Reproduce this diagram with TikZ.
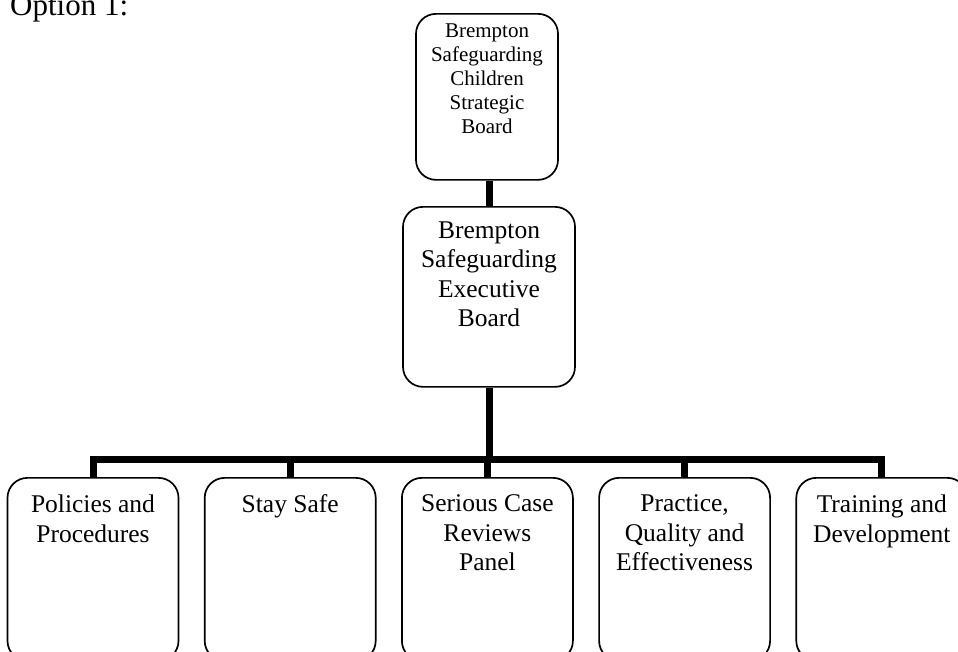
\documentclass[tikz,border=0pt]{standalone}
\usepackage{fontspec}
\setmainfont{Liberation Serif}
\begin{document}
\begin{tikzpicture}[x=1pt,y=-1pt,
  box/.style={draw, line width=1.7pt, rounded corners=20pt, inner sep=0pt, anchor=north},
  label/.style={inner sep=0pt, align=center, anchor=north},
  topbox/.style={box, minimum width=142pt, minimum height=166pt},
  execbox/.style={box, minimum width=172pt, minimum height=180pt},
  groupbox/.style={box, minimum width=171pt, minimum height=183pt},
  toptext/.style={label, font=\fontsize{21}{24}\selectfont},
  maintext/.style={label, font=\fontsize{25.5}{29.5}\selectfont},
  grouptext/.style={label, font=\fontsize{25.5}{29.5}\selectfont},
  conn/.style={line width=7pt}]
\useasboundingbox (0,0) rectangle (958,651);
\fill[white] (0,0) rectangle (958,651);
\clip (0,0) rectangle (958,651);

\node[anchor=base west, inner sep=0pt, font=\fontsize{31}{36}\selectfont] (title) at (10,15) {Option 1:};

% board hierarchy
\node[topbox] (strategic) at (487,13) {};
\node[toptext] (strategic-t) at ([yshift=-10.5pt]strategic.north)
  {Brempton\\Safeguarding\\Children\\Strategic\\Board};
\node[execbox] (exec) at (489,206) {};
\node[maintext] (exec-t) at ([yshift=-15.5pt]exec.north)
  {Brempton\\Safeguarding\\Executive\\Board};

% sub-groups
\foreach \i/\x/\txt in {1/93/{Policies and\\Procedures},
    2/290.2/{Stay Safe},
    3/487.4/{Serious Case\\Reviews\\Panel},
    4/684.6/{Practice,\\Quality and\\Effectiveness},
    5/881.8/{Training and\\Development}} {
  \node[groupbox] (g\i) at (\x,477) {};
  \node[grouptext] (g\i-t) at ([yshift=-17.6pt]g\i.north) {\txt};
}

\coordinate (bus) at (488,459);

% connectors
\draw[conn] (exec.north) -- (exec.north |- strategic.south);
\draw[conn] (exec.south) -- (exec.south |- bus);
\draw[conn] (g1.north) -- (g1.north |- bus) -- (g5.north |- bus) -- (g5.north);
\draw[conn] (g2.north) -- (g2.north |- bus);
\draw[conn] (g3.north) -- (g3.north |- bus);
\draw[conn] (g4.north) -- (g4.north |- bus);
\end{tikzpicture}
\end{document}
